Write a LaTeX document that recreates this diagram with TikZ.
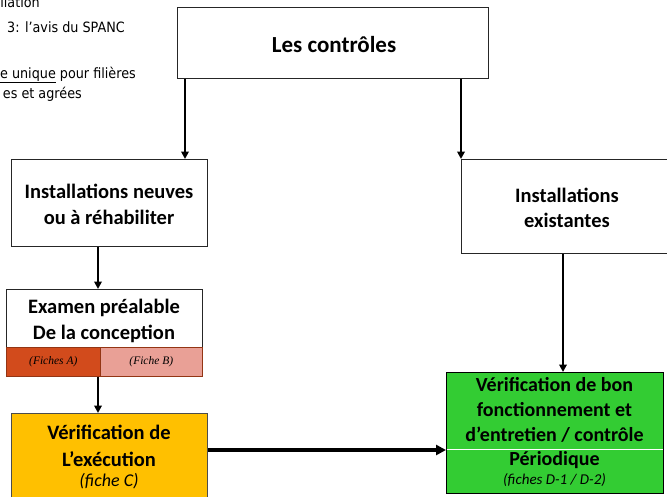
\documentclass[tikz,border=0pt]{standalone}
\usepackage{fontspec}
\setmainfont{Carlito}
\newfontfamily\tahoma[FakeStretch=0.9]{DejaVu Sans}
\newfontfamily\garafont{Liberation Serif}
\usetikzlibrary{arrows.meta,calc}
\definecolor{fichA}{HTML}{D24B1C}
\definecolor{fichB}{HTML}{E9A096}
\definecolor{orangebox}{HTML}{FFC000}
\definecolor{greenbox}{HTML}{33CC33}
\tikzset{
  box/.style={draw=black!85, line width=0.8pt, fill=white, anchor=north west, inner sep=0pt},
  strip/.style={draw=fichA!70!black, line width=0.6pt, anchor=north west, inner sep=0pt, font=\garafont\itshape\fontsize{11.5}{13}\selectfont},
  conn/.style={line width=2.2pt, -{Triangle[width=7.5pt,length=7.5pt]}},
  note/.style={font=\tahoma\fontsize{14.2}{16}\selectfont, inner sep=0pt},
  txt/.style={inner sep=0pt, align=center, font=\fontsize{20.5}{26}\selectfont\bfseries}
}
\begin{document}
\begin{tikzpicture}[x=1pt,y=-1pt]
\useasboundingbox (0,0) rectangle (667,496);
\clip (0,0) rectangle (667,496);
% notes (cropped)
\node[note, anchor=base east] (n1) at (40,7) {llation};
\node[note, anchor=base west] (n2) at (7,32) {3: l’avis du SPANC};
\node[note, anchor=base east] (n3) at (136,78) {\underline{e unique} pour filières};
\node[note, anchor=base east] (n4) at (82,98) {es et agrées};
% boxes
\node[box, minimum width=311pt, minimum height=71pt] (top) at (177,7) {};
\node[txt, font=\fontsize{23}{26}\selectfont\bfseries] (topT) at (334,45) {Les contrôles};
\node[box, minimum width=196pt, minimum height=87pt] (neuves) at (11,159) {};
\node[txt] (neuvesT) at (109,204) {Installations neuves\\ou à réhabiliter};
\node[box, minimum width=220pt, minimum height=94pt] (exist) at (461,159) {};
\node[txt, font=\fontsize{20.5}{25}\selectfont\bfseries] (existT) at (567,208) {Installations\\existantes};
\node[box, minimum width=196pt, minimum height=58pt] (exam) at (6,289) {};
\node[txt] (examT) at (104,321) {Examen préalable\\De la conception};
\node[strip, fill=fichA, minimum width=94pt, minimum height=29pt] (fa) at (6,347) {(Fiches A)};
\node[strip, fill=fichB, minimum width=102pt, minimum height=29pt] (fb) at (100,347) {(Fiche B)};
\node[box, fill=orangebox, draw=black!70, minimum width=196pt, minimum height=90pt] (exec) at (11,413) {};
\node[txt, font=\fontsize{20.5}{27}\selectfont\bfseries] (execT) at (109,446) {Vérification de\\L’exécution};
\node[txt, font=\fontsize{18}{20}\selectfont\itshape\mdseries] (execC) at (109,481) {(fiche C)};
\node[box, fill=greenbox, draw=black, minimum width=217pt, minimum height=121pt] (green) at (446,372) {};
\node[txt, font=\fontsize{20}{25}\selectfont\bfseries] (greenT) at (554.5,410) {Vérification de bon\\fonctionnement et\\d’entretien / contrôle};
\draw[white, line width=1pt] (446.5,449) -- (662.5,449);
\node[txt, font=\fontsize{20}{22}\selectfont\bfseries] (greenP) at (554.5,460) {Périodique};
\node[txt, font=\fontsize{15}{17}\selectfont\itshape\mdseries] (greenF) at (554.5,480) {(fiches D-1 / D-2)};
% connectors
\draw[conn] (top.south -| 185,0) -- (neuves.north -| 185,0);
\draw[conn] (top.south -| exist.north west) -- (exist.north west);
\draw[conn] (neuves.south -| 98,0) -- (exam.north -| 98,0);
\draw[conn] (fa.south -| 98,0) -- (exec.north -| 98,0);
\draw[conn] (exist.south -| 563,0) -- (green.north -| 563,0);
\draw[line width=3.5pt, -{Triangle[width=10pt,length=10pt]}] (exec.east |- 0,450) -- (green.west |- 0,450);
\end{tikzpicture}
\end{document}
